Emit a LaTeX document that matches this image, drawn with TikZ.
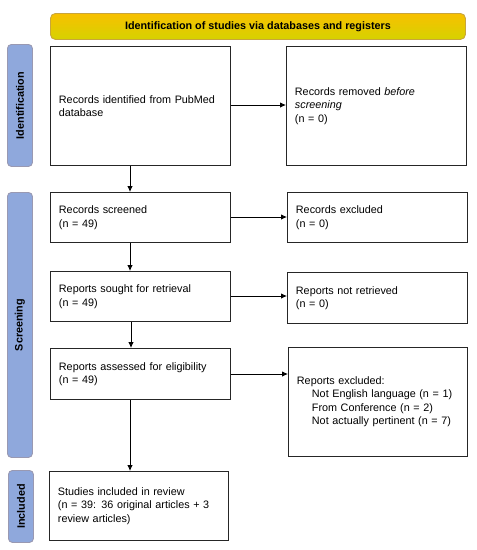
\documentclass[tikz,border=0pt]{standalone}
\usepackage{fontspec}
\setmainfont{Liberation Sans}
\usetikzlibrary{arrows.meta}
\begin{document}
\begin{tikzpicture}[x=1pt,y=-1pt,
  box/.style={draw=black!85,line width=0.9pt,fill=white,inner xsep=8.5pt,inner ysep=0pt,align=left,font=\fontsize{10.8}{13.5}\selectfont,anchor=north west},
  side/.style={draw=black!75!blue!40,line width=0.9pt,fill={rgb,255:red,143;green,168;blue,220},rounded corners=4pt,anchor=north west},
  sidelabel/.style={rotate=90,font=\bfseries\fontsize{10.8}{12}\selectfont},
  arr/.style={-{Latex[length=6pt,width=5.5pt]},line width=0.8pt},
]
\useasboundingbox (0,0) rectangle (477,550);
\fill[white] (0,0) rectangle (477,550);
% header
\node[draw={rgb,255:red,200;green,165;blue,60},line width=0.9pt,rounded corners=5pt,
  top color={rgb,255:red,248;green,192;blue,0},bottom color={rgb,255:red,214;green,210;blue,0},
  minimum width=415pt,minimum height=26pt,anchor=north west,inner sep=0pt,
  font=\bfseries\fontsize{10.8}{12}\selectfont] (hdr) at (50,13) {Identification of studies via databases and registers};
% sidebars
\node[side,minimum width=25pt,minimum height=122pt] (sid) at (7,44) {};
\node[sidelabel] at (sid.center) {Identification};
\node[side,minimum width=25pt,minimum height=265pt] (sscr) at (7,192) {};
\node[sidelabel] at (sscr.center) {Screening};
\node[side,minimum width=25pt,minimum height=72pt] (sinc) at (8,470) {};
\node[sidelabel] at (sinc.center) {Included};
% left boxes
\node[box,text width=163pt,minimum height=119pt] (b1) at (50,46) {Records identified from PubMed\\database};
\node[box,text width=163pt,minimum height=50pt] (b2) at (50,192) {Records screened\\(n = 49)};
\node[box,text width=163pt,minimum height=50pt] (b3) at (50,271) {Reports sought for retrieval\\(n = 49)};
\node[box,text width=163pt,minimum height=51pt] (b4) at (50,348) {Reports assessed for eligibility\\(n = 49)};
\node[box,text width=162pt,minimum height=69pt] (b5) at (49,471) {Studies included in review\\(n = 39: 36 original articles + 3\\review articles)};
% right boxes
\node[box,text width=163pt,minimum height=119pt] (r1) at (286,46) {Records removed \textit{before}\\\textit{screening}\\(n = 0)};
\node[box,text width=163pt,minimum height=50pt] (r2) at (287,192) {Records excluded\\(n = 0)};
\node[box,text width=163pt,minimum height=51pt] (r3) at (287,272) {Reports not retrieved\\(n = 0)};
\node[box,text width=162pt,minimum height=109pt] (r4) at (288,347) {Reports excluded:\\\hspace*{15pt}Not English language (n = 1)\\\hspace*{15pt}From Conference (n = 2)\\\hspace*{15pt}Not actually pertinent (n = 7)};
% arrows
\draw[arr] (b1.south -| 130,0) -- (b2.north -| 130,0);
\draw[arr] (b2.south -| 130,0) -- (b3.north -| 130,0);
\draw[arr] (b3.south -| 131,0) -- (b4.north -| 131,0);
\draw[arr] (b4.south -| 130,0) -- (b5.north -| 130,0);
\draw[arr] (b1.east |- 0,105) -- (r1.west |- 0,105);
\draw[arr] (b2.east |- 0,217) -- (r2.west |- 0,217);
\draw[arr] (b3.east |- 0,296) -- (r3.west |- 0,296);
\draw[arr] (b4.east |- 0,374) -- (r4.west |- 0,374);
\end{tikzpicture}
\end{document}
